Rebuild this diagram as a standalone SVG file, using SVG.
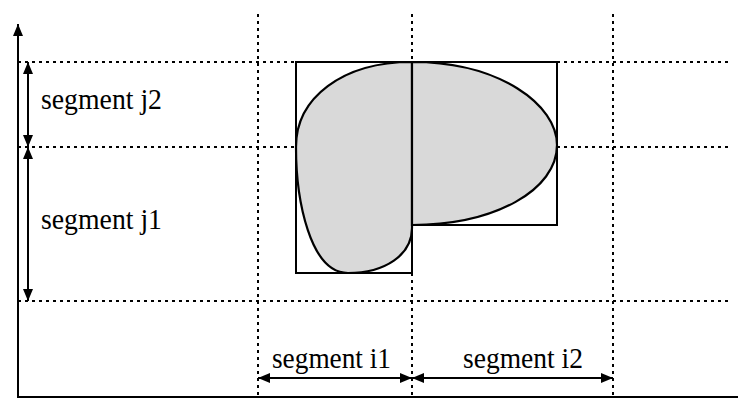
<svg xmlns="http://www.w3.org/2000/svg" width="738" height="399" viewBox="0 0 738 399">
<style>
.grid{stroke:#000;stroke-width:2;stroke-dasharray:3,4;fill:none}
.box{stroke:#000;stroke-width:2;fill:none}
.blob{fill:#d9d9d9;stroke:#000;stroke-width:2.2}
.axis{stroke:#000;stroke-width:2;fill:none}
.dim{stroke:#000;stroke-width:2;fill:none}
.lbl{font-family:"Liberation Serif","Times New Roman",serif;font-size:30px;fill:#000}
</style>
<defs>
<marker id="ah" viewBox="0 0 12 10" refX="12" refY="5" markerWidth="12" markerHeight="10" markerUnits="userSpaceOnUse" orient="auto-start-reverse">
<path d="M0,0 L12,5 L0,10 Z" fill="#000"/>
</marker>
</defs>
<rect width="738" height="399" fill="#fff"/>
<g id="grid">
<line class="grid" x1="18" y1="62" x2="732" y2="62"/>
<line class="grid" x1="18" y1="147" x2="732" y2="147"/>
<line class="grid" x1="18" y1="301" x2="732" y2="301"/>
<line class="grid" x1="258" y1="14" x2="258" y2="396"/>
<line class="grid" x1="412" y1="14" x2="412" y2="396"/>
<line class="grid" x1="613" y1="14" x2="613" y2="396"/>
</g>
<g id="shape-left">
<path class="blob" d="M412,62 C342,62 296,98 296,147 C296,200 310,273 348,273 C385,273 412,255 412,228 Z"/>
<rect class="box" x="296" y="62" width="116" height="211"/>
</g>
<g id="shape-right">
<path class="blob" d="M412,62 C500,62 557,105 557,145 C557,190 495,225 412,225 Z"/>
<rect class="box" x="412" y="62" width="145" height="163"/>
</g>
<g id="axes">
<line class="axis" x1="18" y1="397" x2="18" y2="24" marker-end="url(#ah)"/>
<line class="axis" x1="17" y1="397" x2="738" y2="397"/>
</g>
<g id="connectors">
<line class="dim" x1="28" y1="62" x2="28" y2="147" marker-start="url(#ah)" marker-end="url(#ah)"/>
<line class="dim" x1="28" y1="147" x2="28" y2="301" marker-start="url(#ah)" marker-end="url(#ah)"/>
<line class="dim" x1="258" y1="378" x2="412" y2="378" marker-start="url(#ah)" marker-end="url(#ah)"/>
<line class="dim" x1="412" y1="378" x2="613" y2="378" marker-start="url(#ah)" marker-end="url(#ah)"/>
</g>
<g id="labels">
<text class="lbl" x="41" y="109" textLength="121" lengthAdjust="spacingAndGlyphs">segment j2</text>
<text class="lbl" x="41" y="229" textLength="121" lengthAdjust="spacingAndGlyphs">segment j1</text>
<text class="lbl" x="272" y="368" textLength="119" lengthAdjust="spacingAndGlyphs">segment i1</text>
<text class="lbl" x="463" y="368" textLength="120" lengthAdjust="spacingAndGlyphs">segment i2</text>
</g>
</svg>
